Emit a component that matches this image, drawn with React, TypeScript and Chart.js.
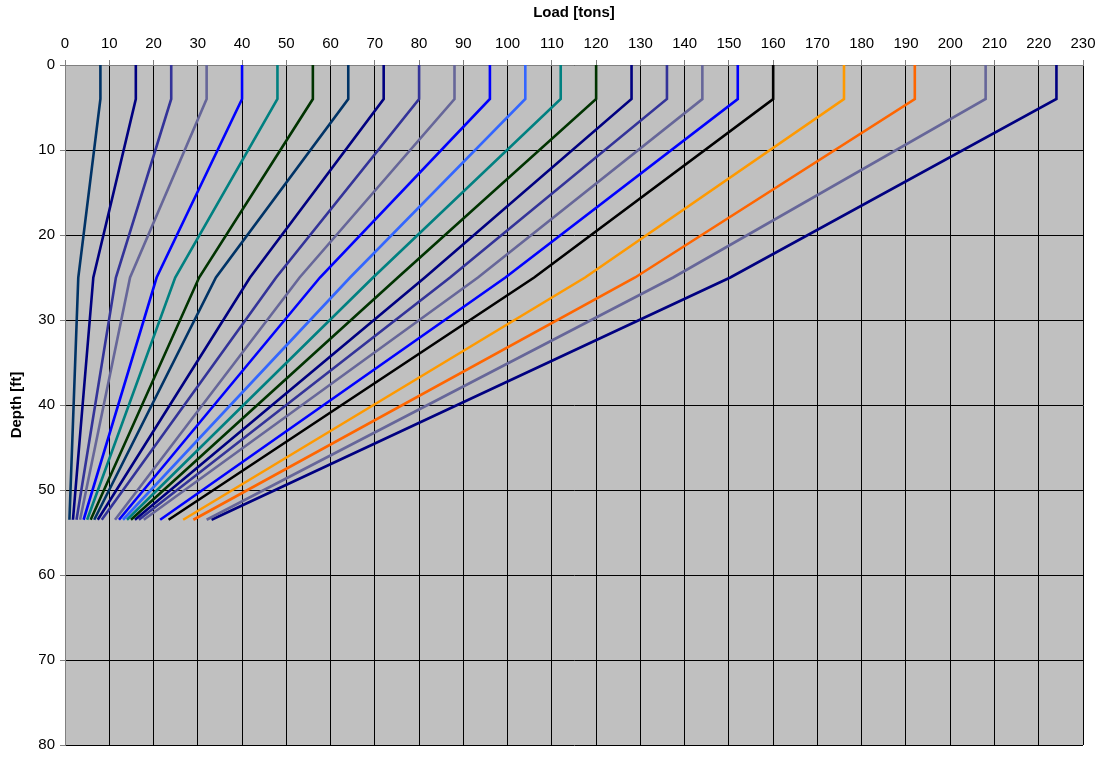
import React, { useEffect, useRef } from "react";
import { Chart, registerables } from "chart.js";

Chart.register(...registerables);

// Applied load at pile head (tons) for each curve
const headLoads = [8, 16, 24, 32, 40, 48, 56, 64, 72, 80, 88, 96, 104, 112, 120, 128, 136, 144, 152, 160, 176, 192, 208, 224];
// Load remaining at depth 25 ft
const loadsAt25 = [3.0, 6.4, 11.5, 14.7, 20.7, 24.9, 30.3, 34.1, 41.8, 47.7, 53.0, 57.6, 64.4, 69.6, 75.2, 81.3, 87.0, 93.3, 99.5, 106.0, 117.5, 128.8, 137.4, 150.3];
// Load at pile tip (53.5 ft)
const loadsAtTip = [1.0, 1.8, 2.6, 3.4, 4.2, 5.0, 5.8, 6.6, 7.4, 8.3, 11.3, 12.2, 13.1, 14.0, 14.9, 15.8, 16.7, 17.8, 21.5, 23.4, 26.7, 29.0, 32.0, 33.1];
// Depths of the profile points (ft)
const depths = [0, 4, 25, 53.5];
const seriesColors = [
  "#003366", "#000080", "#333399", "#666699", "#0000FF", "#008080", "#003300", "#003366",
  "#000080", "#333399", "#666699", "#0000FF", "#3366FF", "#008080", "#003300", "#000080",
  "#333399", "#666699", "#0000FF", "#000000", "#FF9900", "#FF6600", "#666699", "#000080",
];
const xTicks = [0, 10, 20, 30, 40, 50, 60, 70, 80, 90, 100, 110, 120, 130, 140, 150, 160, 170, 180, 190, 200, 210, 220, 230];
const yTicks = [0, 10, 20, 30, 40, 50, 60, 70, 80];

const FONT = "'Liberation Sans', Arial, Helvetica, sans-serif";

const plotBg = {
  id: "plotBg",
  beforeDraw(chart: any) {
    const { ctx, chartArea } = chart;
    if (!chartArea) return;
    ctx.save();
    ctx.fillStyle = "#C0C0C0";
    ctx.fillRect(chartArea.left, chartArea.top, chartArea.right - chartArea.left, chartArea.bottom - chartArea.top);
    ctx.restore();
  },
};

export default function App() {
  const ref = useRef<HTMLCanvasElement | null>(null);

  useEffect(() => {
    if (!ref.current) return;
    const datasets = headLoads.map((q, i) => ({
      label: `${q} tons`,
      data: [
        { x: q, y: depths[0] },
        { x: q, y: depths[1] },
        { x: loadsAt25[i], y: depths[2] },
        { x: loadsAtTip[i], y: depths[3] },
      ],
      borderColor: seriesColors[i],
      backgroundColor: seriesColors[i],
      borderWidth: 2.6,
      pointRadius: 0,
      fill: false,
      tension: 0,
    }));
    const chart = new Chart(ref.current, {
      type: "line",
      data: { datasets },
      plugins: [plotBg],
      options: {
        animation: false,
        responsive: true,
        maintainAspectRatio: false,
        layout: { padding: { top: 0, left: 0, right: 23, bottom: 16 } },
        plugins: { legend: { display: false }, tooltip: { enabled: false } },
        scales: {
          x: {
            type: "linear",
            position: "top",
            min: 0,
            max: 230,
            afterBuildTicks: (s: any) => { s.ticks = xTicks.map((v) => ({ value: v })); },
            afterFit: (s: any) => { s.height = 65; },
            ticks: { color: "#000", font: { family: FONT, size: 15 }, padding: 7, maxRotation: 0, autoSkip: false },
            grid: { color: "#000", lineWidth: 1, tickLength: 5, tickColor: "#808080" },
            border: { color: "#808080", width: 1 },
            title: { display: true, text: "Load [tons]", color: "#000", font: { family: FONT, size: 15, weight: "bold" }, padding: { top: 4, bottom: 0 } },
          },
          y: {
            type: "linear",
            reverse: true,
            min: 0,
            max: 80,
            afterBuildTicks: (s: any) => { s.ticks = yTicks.map((v) => ({ value: v })); },
            afterFit: (s: any) => { s.width = 65; },
            ticks: { color: "#000", font: { family: FONT, size: 15 }, padding: 5, autoSkip: false },
            grid: { color: "#000", lineWidth: 1, tickLength: 5, tickColor: "#808080" },
            border: { color: "#808080", width: 1 },
            title: { display: true, text: "Depth [ft]", color: "#000", font: { family: FONT, size: 15, weight: "bold" }, padding: { top: 8, bottom: 0 } },
          },
        },
      } as any,
    });
    return () => chart.destroy();
  }, []);

  return (
    <div style={{ position: "absolute", left: 0, top: 0, width: 1106, height: 761, background: "#fff" }}>
      <canvas ref={ref} />
    </div>
  );
}
